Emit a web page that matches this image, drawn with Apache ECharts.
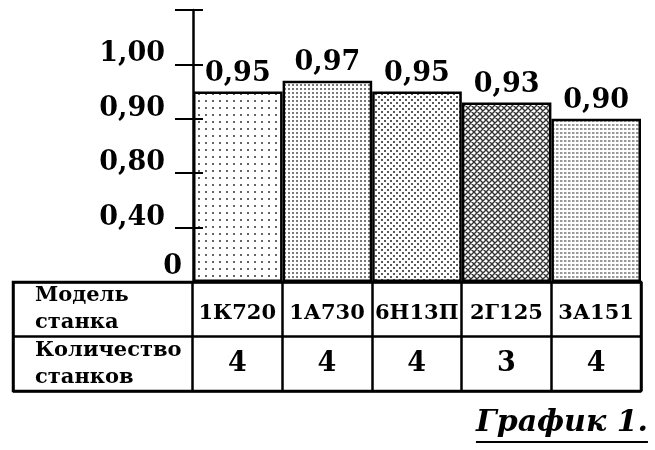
<!DOCTYPE html>
<html>
<head>
<meta charset="utf-8">
<script src="https://cdn.jsdelivr.net/npm/echarts@6/dist/echarts.min.js"></script>
<style>
html,body{margin:0;padding:0;background:#fff;}
#chart{width:655px;height:450px;}
</style>
</head>
<body>
<div id="chart"></div>
<script>
// ---- data ----
const categories = ['1К720', '1А730', '6Н13П', '2Г125', '3А151'];
const utilization = [0.95, 0.97, 0.95, 0.93, 0.90];
const machineCounts = [4, 4, 4, 3, 4];
const tickValues = [0, 0.40, 0.80, 0.90, 1.00, 1.10];
const tickLabels = ['0', '0,40', '0,80', '0,90', '1,00', ''];
const rowLabels = ['Модель станка', 'Количество станков'];
const caption = 'График 1.';

// piecewise scale of the broken value axis (equal spacing between ticks)
function toAxis(v) {
  for (let i = 0; i < tickValues.length - 1; i++) {
    if (v <= tickValues[i + 1]) {
      return i + (v - tickValues[i]) / (tickValues[i + 1] - tickValues[i]);
    }
  }
  return tickValues.length - 1;
}
function fmt(v) { return v.toFixed(2).replace('.', ','); }

// ---- fill patterns ----
function pattern(w, h, draw) {
  const c = document.createElement('canvas');
  c.width = w; c.height = h;
  const g = c.getContext('2d');
  g.fillStyle = '#fff'; g.fillRect(0, 0, w, h);
  draw(g);
  return { image: c, repeat: 'repeat' };
}
const fills = [
  pattern(7, 7, g => { g.fillStyle = '#666'; g.fillRect(2, 2, 2, 2); }),
  pattern(4, 4, g => { g.fillStyle = '#7a7a7a'; g.fillRect(0, 0, 2, 2); }),
  pattern(6, 6, g => { g.fillStyle = '#5a5a5a'; g.fillRect(0, 0, 2, 2); g.fillRect(3, 3, 2, 2); }),
  pattern(6, 6, g => {
    g.strokeStyle = '#333'; g.lineWidth = 1.4;
    g.beginPath();
    g.moveTo(-1, -1); g.lineTo(7, 7);
    g.moveTo(-1, 5); g.lineTo(1, 7);
    g.moveTo(5, -1); g.lineTo(7, 1);
    g.moveTo(7, -1); g.lineTo(-1, 7);
    g.moveTo(1, -1); g.lineTo(-1, 1);
    g.moveTo(7, 5); g.lineTo(5, 7);
    g.stroke();
  }),
  pattern(4, 4, g => { g.fillStyle = '#999'; g.fillRect(0, 0, 2, 2); g.fillStyle = '#ccc'; g.fillRect(2, 0, 1, 2); })
];

const serif = 'DejaVu Serif';
const tableCats = ['h1', 'h2'].concat(categories);
const rowCats = rowLabels.slice().reverse().map(s => s.replace(' ', '\n'));

const chart = echarts.init(document.getElementById('chart'), null, { renderer: 'canvas' });
chart.setOption({
  animation: false,
  backgroundColor: '#fff',
  title: {
    right: 7,
    top: 406,
    padding: 0,
    text: '{t|' + caption + '}\n{u|}',
    textStyle: {
      rich: {
        t: { fontFamily: serif, fontWeight: 'bold', fontStyle: 'italic', fontSize: 30, color: '#000', lineHeight: 34 },
        u: { width: 172, height: 2, backgroundColor: '#000', lineHeight: 4 }
      }
    }
  },
  grid: [
    { left: 193, right: 14, top: 10, bottom: 168 },
    { left: 13, right: 14, top: 282, bottom: 59, show: true, borderColor: '#000', borderWidth: 2.5, backgroundColor: 'transparent' }
  ],
  xAxis: [
    {
      gridIndex: 0, type: 'category', data: categories,
      axisLine: { show: false }, axisTick: { show: false }, axisLabel: { show: false }
    },
    {
      gridIndex: 1, type: 'category', data: tableCats,
      axisLine: { show: false }, axisTick: { show: false }, axisLabel: { show: false },
      splitLine: { show: true, interval: (i) => i !== 1, lineStyle: { color: '#000', width: 2.5 } }
    }
  ],
  yAxis: [
    {
      gridIndex: 0, type: 'value', position: 'left', min: 0, max: tickValues.length - 1, interval: 1,
      z: 5,
      axisLine: { show: true, lineStyle: { color: '#000', width: 2.5 } },
      axisTick: { show: true, length: 18, lineStyle: { color: '#000', width: 2 } },
      splitLine: { show: false },
      axisLabel: {
        margin: 11,
        verticalAlign: 'middle',
        formatter: (v) => {
          const s = tickLabels[Math.round(v)];
          if (!s) return '';
          return v === 0 ? '{z|' + s + '}' : '{a|' + s + '}';
        },
        rich: {
          a: { fontFamily: serif, fontWeight: 'bold', fontSize: 27, color: '#000', padding: [0, 17, 20, 0] },
          z: { fontFamily: serif, fontWeight: 'bold', fontSize: 27, color: '#000', padding: [0, 0, 30, 0] }
        }
      }
    },
    {
      gridIndex: 0, type: 'value', position: 'left', offset: 0, min: 0, max: tickValues.length - 1, interval: 1,
      z: 5,
      axisLine: { show: false },
      axisTick: { show: true, inside: true, length: 10, lineStyle: { color: '#000', width: 2 } },
      splitLine: { show: false }, axisLabel: { show: false }
    },
    {
      gridIndex: 1, type: 'category', data: rowCats,
      axisLine: { show: false }, axisTick: { show: false },
      splitLine: { show: true, lineStyle: { color: '#000', width: 2.5 } },
      axisLabel: {
        inside: true, margin: 22, align: 'left',
        fontFamily: serif, fontWeight: 'bold', fontSize: 21, lineHeight: 27, color: '#000'
      }
    }
  ],
  series: [
    {
      type: 'bar',
      xAxisIndex: 0, yAxisIndex: 0,
      barCategoryGap: 0,
      data: utilization.map((v, i) => ({
        value: toAxis(v),
        itemStyle: { color: fills[i], borderColor: '#000', borderWidth: 2.5 }
      })),
      label: {
        show: true, position: 'top', distance: 4,
        formatter: (p) => fmt(utilization[p.dataIndex]),
        fontFamily: serif, fontWeight: 'bold', fontSize: 27, color: '#000'
      }
    },
    {
      type: 'scatter',
      xAxisIndex: 1, yAxisIndex: 2,
      symbolSize: 1, itemStyle: { color: 'rgba(0,0,0,0)', opacity: 1 },
      data: categories.map(c => [c, rowCats[1]]),
      label: {
        show: true, position: 'inside', offset: [0, 4],
        formatter: (p) => p.value[0],
        fontFamily: serif, fontWeight: 'bold', fontSize: 21, color: '#000', opacity: 1
      }
    },
    {
      type: 'scatter',
      xAxisIndex: 1, yAxisIndex: 2,
      symbolSize: 1, itemStyle: { color: 'rgba(0,0,0,0)', opacity: 1 },
      data: categories.map((c, i) => [c, rowCats[0], machineCounts[i]]),
      label: {
        show: true, position: 'inside',
        formatter: (p) => String(p.value[2]),
        fontFamily: serif, fontWeight: 'bold', fontSize: 27, color: '#000', opacity: 1
      }
    }
  ]
});
</script>
</body>
</html>
